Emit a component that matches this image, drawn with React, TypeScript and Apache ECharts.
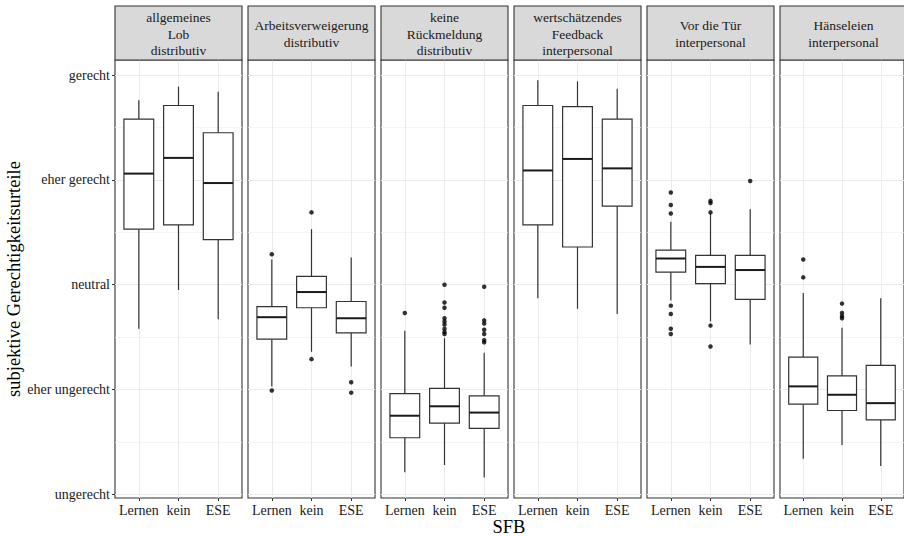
import React, { useEffect, useRef } from "react";
import * as echarts from "echarts";

// ---------------- data ----------------
const groups = ["Lernen", "kein", "ESE"];
const facetLabels = [
  "allgemeines\nLob\ndistributiv",
  "Arbeitsverweigerung\ndistributiv",
  "keine\nRückmeldung\ndistributiv",
  "wertschätzendes\nFeedback\ninterpersonal",
  "Vor die Tür\ninterpersonal",
  "Hänseleien\ninterpersonal",
];
const yTickValues = [1, 2, 3, 4, 5];
const yTickLabels = ["ungerecht", "eher ungerecht", "neutral", "eher gerecht", "gerecht"];
const yGridMajor = [1, 2, 3, 4, 5];
const yGridMinor = [1.5, 2.5, 3.5, 4.5];
const xAxisTitle = "SFB";
const yAxisTitle = "subjektive Gerechtigkeitsurteile";

// [min, Q1, median, Q3, max] per group (Lernen, kein, ESE)
const lobStats = [
  [2.58, 3.53, 4.06, 4.58, 4.76],
  [2.95, 3.57, 4.21, 4.71, 4.89],
  [2.67, 3.43, 3.97, 4.45, 4.84],
];
const arbeitsStats = [
  [2.03, 2.48, 2.69, 2.79, 3.24],
  [2.36, 2.78, 2.93, 3.08, 3.53],
  [2.22, 2.54, 2.68, 2.84, 3.26],
];
const rueckStats = [
  [1.21, 1.54, 1.75, 1.96, 2.56],
  [1.28, 1.68, 1.84, 2.01, 2.49],
  [1.16, 1.63, 1.78, 1.94, 2.35],
];
const feedbackStats = [
  [2.87, 3.57, 4.09, 4.71, 4.95],
  [2.77, 3.36, 4.2, 4.7, 4.94],
  [2.72, 3.75, 4.11, 4.58, 4.87],
];
const tuerStats = [
  [2.85, 3.12, 3.25, 3.33, 3.6],
  [2.65, 3.01, 3.17, 3.28, 3.68],
  [2.43, 2.86, 3.14, 3.28, 3.72],
];
const haenselStats = [
  [1.34, 1.86, 2.03, 2.31, 2.92],
  [1.47, 1.8, 1.95, 2.13, 2.59],
  [1.27, 1.71, 1.87, 2.23, 2.87],
];

// outliers per group (Lernen, kein, ESE)
const lobOutliers: number[][] = [[], [], []];
const arbeitsOutliers = [
  [3.29, 1.99],
  [3.69, 2.29],
  [2.07, 1.97],
];
const rueckOutliers = [
  [2.73],
  [3.0, 2.83, 2.78, 2.68, 2.65, 2.62, 2.58, 2.55, 2.53],
  [2.98, 2.66, 2.63, 2.57, 2.53, 2.47, 2.45],
];
const feedbackOutliers: number[][] = [[], [], []];
const tuerOutliers = [
  [3.88, 3.76, 3.68, 2.8, 2.72, 2.58, 2.53],
  [3.8, 3.78, 3.69, 2.61, 2.41],
  [3.99],
];
const haenselOutliers = [
  [3.24, 3.07],
  [2.82, 2.73, 2.7, 2.68],
  [],
];

const facetStats = [lobStats, arbeitsStats, rueckStats, feedbackStats, tuerStats, haenselStats];
const facetOutliers = [lobOutliers, arbeitsOutliers, rueckOutliers, feedbackOutliers, tuerOutliers, haenselOutliers];

// ---------------- layout / style ----------------
const FONT = '"Liberation Serif", "DejaVu Serif", serif';
const PANEL_LEFT0 = 115;
const PANEL_PITCH = 133;
const PANEL_W = 127;
const PANEL_TOP = 60;
const PANEL_H = 438;
const STRIP_TOP = 6;
const STRIP_H = 54;
const Y_MIN = 0.965;
const Y_MAX = 5.144;
const X_MIN = 0.4;
const X_MAX = 3.6;

function buildOption() {
  const grid: any[] = [];
  const xAxis: any[] = [];
  const yAxis: any[] = [];
  const series: any[] = [];
  const graphic: any[] = [];

  facetLabels.forEach((label, i) => {
    const left = PANEL_LEFT0 + i * PANEL_PITCH;
    grid.push({
      left,
      top: PANEL_TOP,
      width: PANEL_W,
      height: PANEL_H,
      show: true,
      backgroundColor: "#ffffff",
      borderColor: "#333333",
      borderWidth: 1.1,
    });
    xAxis.push({
      type: "value",
      gridIndex: i,
      min: X_MIN,
      max: X_MAX,
      axisLine: { show: false },
      splitLine: { show: false },
      axisTick: {
        show: true,
        length: 3,
        customValues: [1, 2, 3],
        lineStyle: { color: "#333333", width: 1 },
      },
      axisLabel: {
        show: true,
        customValues: [1, 2, 3],
        margin: 5,
        fontFamily: FONT,
        fontSize: 14,
        color: "#1a1a1a",
        formatter: (v: number) =>
          Math.abs(v - Math.round(v)) < 1e-6 && groups[Math.round(v) - 1] ? groups[Math.round(v) - 1] : "",
      },
    });
    yAxis.push({
      type: "value",
      gridIndex: i,
      min: Y_MIN,
      max: Y_MAX,
      axisLine: { show: false },
      splitLine: { show: false },
      axisTick: {
        show: i === 0,
        length: 3,
        customValues: yTickValues,
        lineStyle: { color: "#333333", width: 1 },
      },
      axisLabel: {
        show: i === 0,
        customValues: yTickValues,
        margin: 5,
        fontFamily: FONT,
        fontSize: 14,
        color: "#1a1a1a",
        formatter: (v: number) => {
          const idx = yTickValues.findIndex((t) => Math.abs(t - v) < 1e-6);
          return idx >= 0 ? yTickLabels[idx] : "";
        },
      },
    });

    // gridlines (drawn through markLine on an invisible helper series)
    series.push({
      type: "scatter",
      xAxisIndex: i,
      yAxisIndex: i,
      data: [[2, 3]],
      symbolSize: 0,
      silent: true,
      z: 1,
      markLine: {
        silent: true,
        symbol: "none",
        z: 1,
        label: { show: false },
        lineStyle: { color: "#ebebeb", width: 1, type: "solid" },
        emphasis: { disabled: true },
        data: [
          ...yGridMajor.map((v) => ({ yAxis: v })),
          ...yGridMinor.map((v) => ({ yAxis: v, lineStyle: { color: "#f1f1f1", width: 0.7, type: "solid" } })),
          ...groups.map((_, g) => ({ xAxis: g + 1 })),
        ],
      },
    });

    // boxes
    const boxData = facetStats[i].map((s, g) => [g + 1, ...s]);
    series.push({
      type: "custom",
      xAxisIndex: i,
      yAxisIndex: i,
      z: 3,
      encode: { x: 0, y: [1, 2, 3, 4, 5] },
      data: boxData,
      renderItem: (params: any, api: any) => {
        const x = api.value(0);
        const pMin = api.coord([x, api.value(1)]);
        const pQ1 = api.coord([x, api.value(2)]);
        const pMed = api.coord([x, api.value(3)]);
        const pQ3 = api.coord([x, api.value(4)]);
        const pMax = api.coord([x, api.value(5)]);
        const w = api.size([0.75, 0])[0];
        const cx = pMin[0];
        const lineStyle = { stroke: "#333333", lineWidth: 1.2 };
        return {
          type: "group",
          children: [
            { type: "line", shape: { x1: cx, y1: pMax[1], x2: cx, y2: pQ3[1] }, style: lineStyle },
            { type: "line", shape: { x1: cx, y1: pQ1[1], x2: cx, y2: pMin[1] }, style: lineStyle },
            {
              type: "rect",
              shape: { x: cx - w / 2, y: pQ3[1], width: w, height: pQ1[1] - pQ3[1] },
              style: { fill: "#ffffff", stroke: "#333333", lineWidth: 1.2 },
            },
            {
              type: "line",
              shape: { x1: cx - w / 2, y1: pMed[1], x2: cx + w / 2, y2: pMed[1] },
              style: { stroke: "#1a1a1a", lineWidth: 2 },
            },
          ],
        };
      },
    });

    // outliers
    const outData: number[][] = [];
    facetOutliers[i].forEach((vals, g) => vals.forEach((v) => outData.push([g + 1, v])));
    series.push({
      type: "scatter",
      xAxisIndex: i,
      yAxisIndex: i,
      z: 4,
      symbol: "circle",
      symbolSize: 4.5,
      itemStyle: { color: "#000000" },
      data: outData,
    });

    // strip
    graphic.push({
      type: "rect",
      shape: { x: left, y: STRIP_TOP, width: PANEL_W, height: STRIP_H },
      style: { fill: "#d9d9d9", stroke: "#333333", lineWidth: 1.1 },
      z: 10,
    });
    graphic.push({
      type: "text",
      x: left + PANEL_W / 2,
      y: STRIP_TOP + STRIP_H / 2 + 1,
      z: 11,
      style: {
        text: label,
        align: "center",
        verticalAlign: "middle",
        font: `13.5px ${FONT}`,
        lineHeight: 16.5,
        fill: "#1a1a1a",
      },
    });
  });

  // axis titles
  const lastRight = PANEL_LEFT0 + (facetLabels.length - 1) * PANEL_PITCH + PANEL_W;
  graphic.push({
    type: "text",
    x: (PANEL_LEFT0 + lastRight) / 2 - 2,
    y: 527,
    z: 11,
    style: { text: xAxisTitle, align: "center", verticalAlign: "middle", font: `18.5px ${FONT}`, fill: "#000000" },
  });
  graphic.push({
    type: "text",
    x: 14,
    y: PANEL_TOP + PANEL_H / 2,
    rotation: Math.PI / 2,
    z: 11,
    style: { text: yAxisTitle, align: "center", verticalAlign: "middle", font: `18.5px ${FONT}`, fill: "#000000" },
  });

  return {
    animation: false,
    backgroundColor: "#ffffff",
    grid,
    xAxis,
    yAxis,
    series,
    graphic,
  };
}

export default function App() {
  const ref = useRef<HTMLDivElement>(null);
  useEffect(() => {
    if (!ref.current) return;
    const chart = echarts.init(ref.current, undefined, { renderer: "svg" });
    chart.setOption(buildOption() as any);
    return () => chart.dispose();
  }, []);
  return (
    <div
      ref={ref}
      style={{ position: "fixed", left: 0, top: 0, width: 904, height: 536, background: "#ffffff" }}
    />
  );
}
